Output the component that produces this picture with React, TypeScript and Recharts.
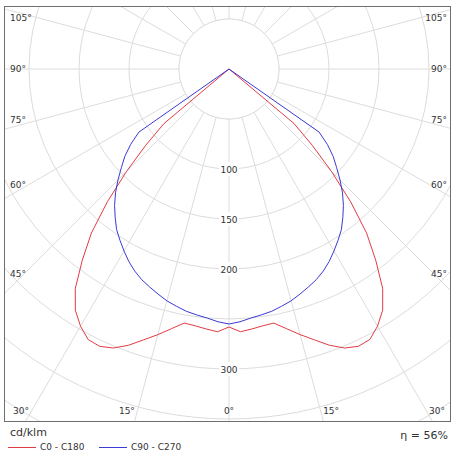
import React from 'react';
import { RadarChart, Radar, PolarGrid, PolarAngleAxis, PolarRadiusAxis } from 'recharts';

// cd/klm every 2.5° of gamma, from 0° (down) upward; the curves sit at 0 past the last entry
const gammaStep = 2.5;
const c0C180 = [258, 263, 261, 259, 258, 266, 275, 284, 294, 302, 306, 305, 297, 286, 268, 241, 214, 180, 145, 113, 85, 0];
const c90C270 = [255, 253, 250, 248, 246, 243, 240, 236, 232, 228, 223, 217, 210, 203, 196, 187, 178, 168, 157, 146, 136, 124, 110, 0];

const gammas = Array.from({ length: 360 / gammaStep }, (_, i) => i * gammaStep);
const ringValues = [50, 100, 150, 200, 250, 300, 350, 400, 450];
const ringLabels = [100, 150, 200, 300];
const spokeAngles = [0, 15, 30, 45, 60, 75, 90, 105, 120, 135, 150, 165, 180, 195, 210, 225, 240, 255, 270, 285, 300, 315, 330, 345];
const angleLabels = [0, 15, 30, 45, 60, 75, 90, 105];
const innerRing = 50;
const efficiency = 56;

const series = [
  { key: 'c0', name: 'C0 - C180', color: '#e23b44', values: c0C180 },
  { key: 'c90', name: 'C90 - C270', color: '#3a3ad4', values: c90C270 },
];

const valueAt = (half: number[], g: number) => {
  const a = g <= 180 ? g : 360 - g;
  return half[Math.round(a / gammaStep)] ?? 0;
};

const data = gammas.map((g) => {
  const row: any = { gamma: g, mask: innerRing };
  series.forEach((s) => { row[s.key] = valueAt(s.values, g); });
  return row;
});

const W = 445;
const H = 414;
const CX = 224;
const CY = 62;
const RMAX = 450;
const OUTER = 450;
const GRID = '#dcdcdc';
const FONT = 'DejaVu Sans';

const AngleTick = ({ payload }: any) => {
  const g = Number(payload?.value);
  const side = g <= 180 ? 1 : -1;
  const a = g <= 180 ? g : 360 - g;
  if (!angleLabels.includes(a)) return null;
  const rad = (a * Math.PI) / 180;
  let x: number, y: number, anchor: string;
  if (a <= 30) {
    y = 404;
    const cross = CX + side * (y - CY) * Math.tan(rad);
    x = a === 0 ? CX : cross + side * 2.5;
    anchor = a === 0 ? 'middle' : side > 0 ? 'start' : 'end';
  } else {
    x = side > 0 ? W - 3 : 5;
    anchor = side > 0 ? 'end' : 'start';
    y = CY + 211 / Math.tan(rad) + (a < 90 ? -6 : a > 90 ? 6 : 0);
  }
  return (
    <text x={x} y={y} textAnchor={anchor as any} dominantBaseline="central"
      fontSize={9} fontFamily={FONT} fill="#333">{a}°</text>
  );
};

const RingTick = ({ x, y, payload }: any) => {
  if (!ringLabels.includes(payload?.value)) return null;
  return (
    <g>
      <rect x={x - 10} y={y - 7} width={20} height={14} fill="#fff" />
      <text x={x} y={y + 1} textAnchor="middle" dominantBaseline="central"
        fontSize={9} fontFamily={FONT} fill="#333">{payload.value}</text>
    </g>
  );
};

const App = () => (
  <div style={{ position: 'absolute', left: 0, top: 0, width: 458, height: 458, background: '#fff', fontFamily: FONT, color: '#333' }}>
    <div style={{ position: 'absolute', left: 4, top: 6, width: W + 2, height: H + 2, border: '1px solid #6e6e6e',
      boxSizing: 'border-box', overflow: 'hidden' }}>
      {/* recharts puts the first category one step past startAngle, hence the -2.5° */}
      <RadarChart width={W} height={H} data={data} cx={CX} cy={CY} outerRadius={OUTER}
        startAngle={-90 - gammaStep} endAngle={270 - gammaStep} margin={{ top: 0, right: 0, bottom: 0, left: 0 }}>
        <PolarGrid gridType="circle" stroke={GRID} polarAngles={spokeAngles}
          polarRadius={ringValues.map((v) => (v * OUTER) / RMAX)} />
        <PolarAngleAxis dataKey="gamma" axisLine={false} tickLine={false} tick={AngleTick} />
        <PolarRadiusAxis angle={-90} type="number" domain={[0, RMAX]} ticks={ringValues as any} tickCount={10}
          axisLine={false} tickLine={false} tick={RingTick} />
        <Radar dataKey="mask" stroke={GRID} fill="#fff" fillOpacity={1} dot={false} isAnimationActive={false} />
        {series.map((s) => (
          <Radar key={s.key} dataKey={s.key} name={s.name} stroke={s.color} strokeWidth={1}
            fill="none" fillOpacity={0} dot={false} isAnimationActive={false} />
        ))}
      </RadarChart>
    </div>
    <div style={{ position: 'absolute', left: 10, top: 426, fontSize: 11, lineHeight: '14px' }}>cd/klm</div>
    {series.map((s, i) => (
      <div key={s.key} style={{ position: 'absolute', left: i === 0 ? 8 : 99, top: 441, display: 'flex', alignItems: 'center', fontSize: 9, lineHeight: '12px' }}>
        <span style={{ display: 'inline-block', width: 28, height: 1, background: s.color, marginRight: 4 }} />
        <span>{s.name}</span>
      </div>
    ))}
    <div style={{ position: 'absolute', right: 10, top: 429, fontSize: 11, lineHeight: '14px' }}>η = {efficiency}%</div>
  </div>
);

export default App;
